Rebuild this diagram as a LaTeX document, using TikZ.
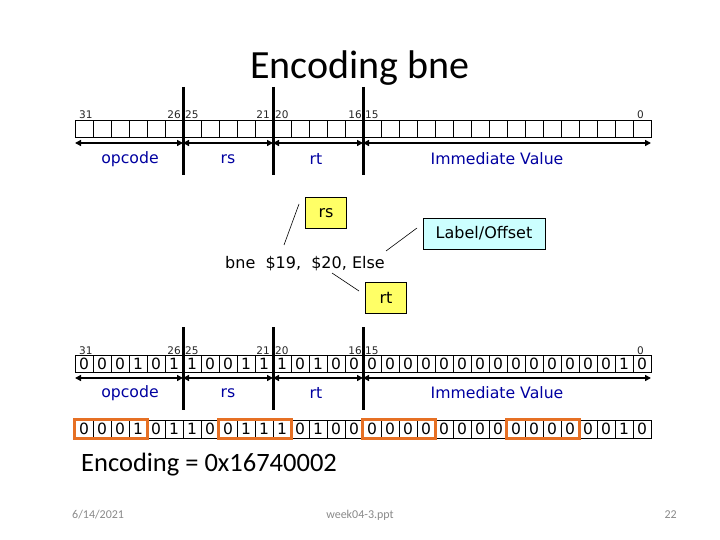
\documentclass[tikz,border=0pt]{standalone}
\usepackage{fontspec}
\setmainfont{Carlito}
\newfontfamily\vfont{DejaVu Sans}
\usetikzlibrary{arrows.meta,calc}
\definecolor{navy}{RGB}{0,0,160}
\definecolor{orng}{RGB}{230,112,36}
\definecolor{yel}{RGB}{255,255,102}
\definecolor{cyn}{RGB}{204,255,255}
\definecolor{foot}{RGB}{137,137,137}
\tikzset{
  cell/.style={draw,line width=0.6pt,minimum width=18pt,minimum height=17pt,inner sep=0pt,font=\vfont\fontsize{15.5}{15.5}\selectfont},
  cellc/.style={cell,minimum height=18pt},
  bitno/.style={font=\vfont\fontsize{10.5}{10.5}\selectfont,text=black!85,inner sep=0pt},
  field/.style={font=\vfont\fontsize{15.7}{16}\selectfont,text=navy,inner sep=0pt},
  sep/.style={line width=3pt},
  farrow/.style={line width=2pt,{Triangle[length=6pt,width=6pt]}-{Triangle[length=6pt,width=6pt]}},
  callout/.style={draw,line width=0.6pt,font=\vfont\fontsize{16}{17}\selectfont,inner sep=0pt,minimum height=31pt},
  grp/.style={draw=orng,line width=2.6pt},
  footer/.style={font=\fontsize{12}{12}\selectfont,text=foot,inner sep=0pt}
}
\begin{document}
\begin{tikzpicture}[x=1pt,y=-1pt]
\useasboundingbox (0,0) rectangle (720,540);
\node[font=\fontsize{40}{40}\selectfont,inner sep=0pt] (title) at (360,68) {Encoding bne};

% ---------- top register ----------
\foreach \i in {0,...,31}{
  \node[cell] (a\i) at ({84+18*\i},129) {};
}
\node[bitno,anchor=base west] (ta31) at (79,119) {31};
\node[bitno,anchor=base east] (ta26) at (181,119) {26};
\node[bitno,anchor=base west] (ta25) at (185,119) {25};
\node[bitno,anchor=base east] (ta21) at (270,119) {21};
\node[bitno,anchor=base west] (ta20) at (275,119) {20};
\node[bitno,anchor=base east] (ta16) at (362,119) {16};
\node[bitno,anchor=base west] (ta15) at (365,119) {15};
\node[bitno,anchor=base east] (ta0) at (644,119) {0};

\coordinate (t0) at (75,143);
\coordinate (t1) at (183,143);
\coordinate (t2) at (273,143);
\coordinate (t3) at (363,143);
\coordinate (t4) at (651,143);
\draw[farrow] (t0) -- (t1);
\draw[farrow] (t1) -- (t2);
\draw[farrow] (t2) -- (t3);
\draw[farrow] (t3) -- (t4);
\foreach \x/\n in {183/1,273/2,363/3}{
  \coordinate (tv\n a) at (\x,87);
  \coordinate (tv\n b) at (\x,175);
  \draw[sep] (tv\n a) -- (tv\n b);
}
\node[field] (fop) at (130,159) {opcode};
\node[field] (frs) at (228,159) {rs};
\node[field] (frt) at (316,159) {rt};
\node[field] (fimm) at (497,159) {Immediate Value};

% ---------- instruction with callouts ----------
\node[font=\vfont\fontsize{16}{17}\selectfont,inner sep=0pt,anchor=base west] (instr) at (225,268) {bne\ \ \$19,\ \ \$20, Else};
\node[callout,fill=yel,minimum width=41pt] (crs) at (326,213) {rs};
\node[callout,fill=cyn,minimum width=122pt] (clab) at (484,233.5) {Label/Offset};
\node[callout,fill=yel,minimum width=41pt] (crt) at (386,298) {rt};
\coordinate (lrs1) at (299,204);
\coordinate (lrs2) at (284,245);
\draw[line width=0.6pt] (lrs1) -- (lrs2);
\coordinate (llab1) at (417,228);
\coordinate (llab2) at (386,251);
\draw[line width=0.6pt] (llab1) -- (llab2);
\coordinate (lrt1) at (332,273);
\coordinate (lrt2) at (359,291);
\draw[line width=0.6pt] (lrt1) -- (lrt2);

% ---------- bottom register ----------
\foreach \b [count=\i from 0] in {0,0,0,1,0,1,1,0,0,1,1,1,0,1,0,0,0,0,0,0,0,0,0,0,0,0,0,0,0,0,1,0}{
  \node[cell] (b\i) at ({84+18*\i},364) {\b};
}
\node[bitno,anchor=base west] (tb31) at (79,354) {31};
\node[bitno,anchor=base east] (tb26) at (181,354) {26};
\node[bitno,anchor=base west] (tb25) at (185,354) {25};
\node[bitno,anchor=base east] (tb21) at (270,354) {21};
\node[bitno,anchor=base west] (tb20) at (275,354) {20};
\node[bitno,anchor=base east] (tb16) at (362,354) {16};
\node[bitno,anchor=base west] (tb15) at (365,354) {15};
\node[bitno,anchor=base east] (tb0) at (644,354) {0};

\coordinate (u0) at (75,378);
\coordinate (u1) at (183,378);
\coordinate (u2) at (273,378);
\coordinate (u3) at (363,378);
\coordinate (u4) at (651,378);
\draw[farrow] (u0) -- (u1);
\draw[farrow] (u1) -- (u2);
\draw[farrow] (u2) -- (u3);
\draw[farrow] (u3) -- (u4);
\foreach \x/\n in {183/1,273/2,363/3}{
  \coordinate (uv\n a) at (\x,327);
  \coordinate (uv\n b) at (\x,410);
  \draw[sep] (uv\n a) -- (uv\n b);
}
\node[field] (gop) at (130,393) {opcode};
\node[field] (grs) at (228,393) {rs};
\node[field] (grt) at (316,393) {rt};
\node[field] (gimm) at (497,393) {Immediate Value};

% ---------- nibble row ----------
\foreach \b [count=\i from 0] in {0,0,0,1,0,1,1,0,0,1,1,1,0,1,0,0,0,0,0,0,0,0,0,0,0,0,0,0,0,0,1,0}{
  \node[cellc] (n\i) at ({84+18*\i},429) {\b};
}
\foreach \s/\e in {0/3,8/11,16/19,24/27}{
  \draw[grp] (n\s.north west) rectangle (n\e.south east);
}

\node[font=\fontsize{26.5}{27}\selectfont,inner sep=0pt,anchor=west] (enc) at (81,465) {Encoding = 0x16740002};

% ---------- footer ----------
\node[footer,anchor=west] (date) at (72,515) {6/14/2021};
\node[footer] (file) at (360,515) {week04-3.ppt};
\node[footer,anchor=east] (page) at (677,515) {22};
\end{tikzpicture}
\end{document}
